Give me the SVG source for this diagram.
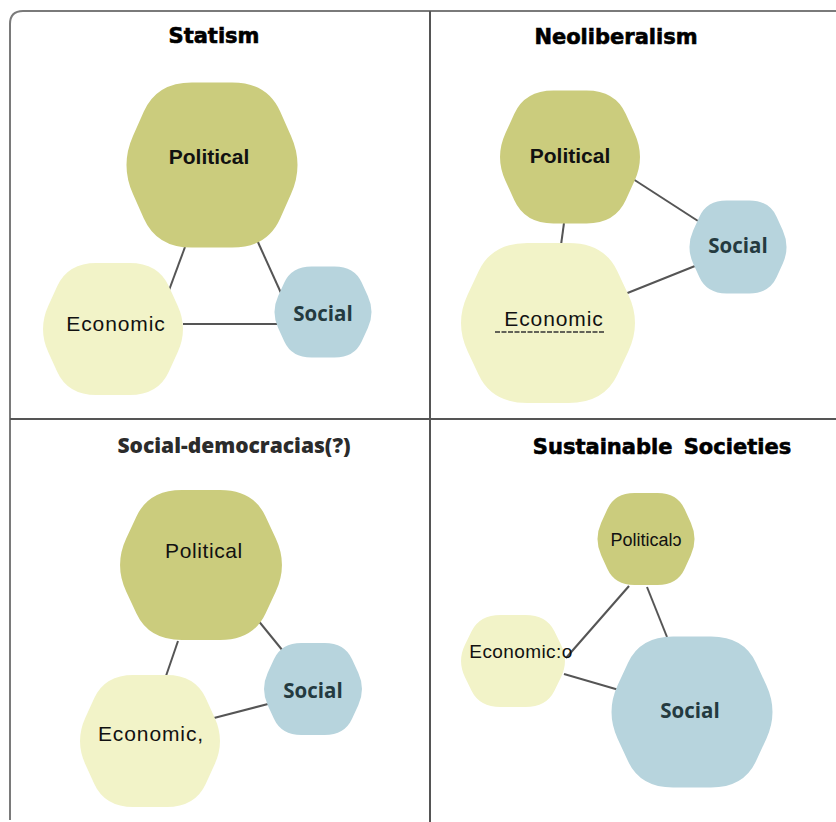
<svg xmlns="http://www.w3.org/2000/svg" xmlns:xlink="http://www.w3.org/1999/xlink" width="836" height="822" viewBox="0 0 836 822">
<style>
.frame{fill:none;stroke:#7a7a7a;stroke-width:2}
.div{fill:none;stroke:#555;stroke-width:2}
.pol{fill:#cbcc7d}
.eco{fill:#f2f3c8}
.soc{fill:#b7d4dd}
.conn line{stroke:#555;stroke-width:2}
.title{font-family:"DejaVu Sans",sans-serif;font-weight:bold;font-size:21px;fill:#000;stroke:#000;stroke-width:0.6;text-anchor:middle}
.title2{font-family:"Open Sans",sans-serif;font-weight:800;font-size:21px;fill:#2b2b2b;text-anchor:middle}
.lp{font-family:"Liberation Sans",Arial,sans-serif;font-weight:bold;font-size:21px;fill:#111;text-anchor:middle}
.lpn{font-family:"Liberation Sans",Arial,sans-serif;font-size:21px;fill:#111;letter-spacing:0.6px;text-anchor:middle}
.le{font-family:"Liberation Sans",Arial,sans-serif;font-size:21px;fill:#111;letter-spacing:0.9px;text-anchor:middle}
.ls{font-family:"Open Sans",sans-serif;font-weight:bold;font-size:20.5px;fill:#243a40;text-anchor:middle}
</style>
<defs>
<path id="hex" d="M-0.8589,-0.3528 L-0.7411,-0.6472 Q-0.6,-1 -0.22,-1 L0.22,-1 Q0.6,-1 0.7411,-0.6472 L0.8589,-0.3528 Q1,0 0.8589,0.3528 L0.7411,0.6472 Q0.6,1 0.22,1 L-0.22,1 Q-0.6,1 -0.7411,0.6472 L-0.8589,0.3528 Q-1,0 -0.8589,-0.3528 Z"/>
</defs>
<rect width="836" height="822" fill="#fff"/>
<g id="frame">
<path class="frame" d="M10,820 V24 Q10,11 23,11 H836"/>
<line class="div" x1="430" y1="11" x2="430" y2="822"/>
<line class="div" x1="10" y1="419" x2="836" y2="419"/>
</g>
<g id="titles">
<text class="title" x="214" y="43">Statism</text>
<text class="title" x="616" y="44">Neoliberalism</text>
<text class="title2" x="234" y="453">Social-democracias(?)</text>
<text class="title" x="662" y="454" word-spacing="4">Sustainable Societies</text>
</g>
<g id="connectors" class="conn">
<line x1="185" y1="247" x2="168" y2="293"/>
<line x1="257" y1="240" x2="281" y2="293"/>
<line x1="183" y1="324" x2="277" y2="324"/>
<line x1="633" y1="179" x2="698" y2="221"/>
<line x1="564" y1="223" x2="561" y2="245"/>
<line x1="625" y1="294" x2="695" y2="266"/>
<line x1="178" y1="641" x2="166" y2="676"/>
<line x1="257" y1="619" x2="283" y2="651"/>
<line x1="214" y1="718" x2="268" y2="704"/>
<line x1="629" y1="586" x2="566" y2="658"/>
<line x1="647" y1="587" x2="667" y2="637"/>
<line x1="564" y1="674" x2="619" y2="690"/>
</g>
<g id="statism-political"><use xlink:href="#hex" class="pol" transform="translate(212,165) scale(92,82.5)"/><text class="lp" x="209" y="164">Political</text></g>
<g id="statism-economic"><use xlink:href="#hex" class="eco" transform="translate(113,329) scale(75.3,66)"/><text class="le" x="116" y="331">Economic</text></g>
<g id="statism-social"><use xlink:href="#hex" class="soc" transform="translate(323,312) scale(52.2,45.5)"/><text class="ls" x="323" y="321">Social</text></g>
<g id="neo-political"><use xlink:href="#hex" class="pol" transform="translate(570,157) scale(75.3,66.5)"/><text class="lp" x="570" y="163">Political</text></g>
<g id="neo-economic"><use xlink:href="#hex" class="eco" transform="translate(548,323) scale(93.6,80)"/><text class="le" x="554" y="326">Economic</text><line x1="495" y1="332" x2="604" y2="332" stroke="#333" stroke-width="1.5" stroke-dasharray="5,1.5"/></g>
<g id="neo-social"><use xlink:href="#hex" class="soc" transform="translate(738,247) scale(52.2,46.5)"/><text class="ls" x="738" y="253">Social</text></g>
<g id="sd-political"><use xlink:href="#hex" class="pol" transform="translate(201,565) scale(87.1,75)"/><text class="lpn" x="204" y="558">Political</text></g>
<g id="sd-economic"><use xlink:href="#hex" class="eco" transform="translate(150,741) scale(75.3,66)"/><text class="le" x="151" y="741">Economic,</text></g>
<g id="sd-social"><use xlink:href="#hex" class="soc" transform="translate(313,689) scale(52.7,46)"/><text class="ls" x="313" y="698">Social</text></g>
<g id="sust-political"><use xlink:href="#hex" class="pol" transform="translate(646,539) scale(52.2,46)"/><text class="lpn" x="646" y="546" style="font-size:18px;letter-spacing:0">Political&#x2184;</text></g>
<g id="sust-economic"><use xlink:href="#hex" class="eco" transform="translate(513,661) scale(55.9,46)"/><text class="le" x="521" y="658" style="font-size:19px;letter-spacing:0.4px">Economic:o</text></g>
<g id="sust-social"><use xlink:href="#hex" class="soc" transform="translate(692,712) scale(86.6,75.5)"/><text class="ls" x="690" y="718">Social</text></g>
</svg>
